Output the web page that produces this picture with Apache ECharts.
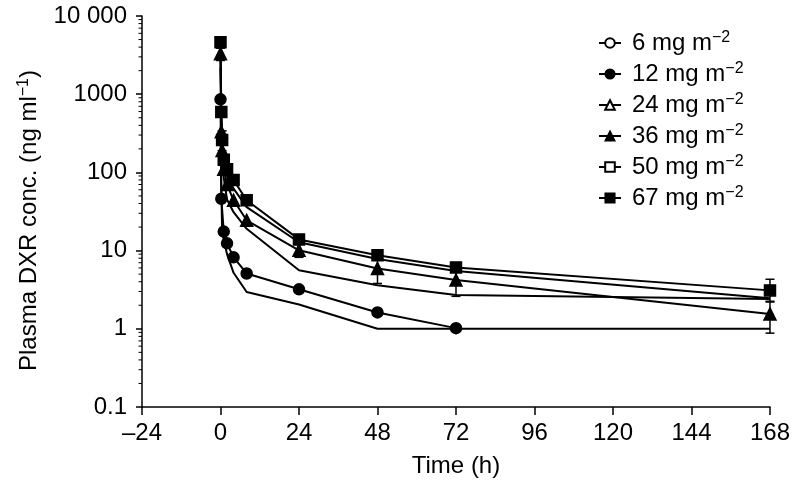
<!DOCTYPE html>
<html>
<head>
<meta charset="utf-8">
<script src="https://cdn.jsdelivr.net/npm/echarts@6/dist/echarts.min.js"></script>
<style>html,body{margin:0;padding:0;background:#fff}#c{width:793px;height:485px}</style>
</head>
<body>
<div id="c"></div>
<script>
// ---- data ----
const doseNames = ['6', '12', '24', '36', '50', '67'];
const xTicks = [-24, 0, 24, 48, 72, 96, 120, 144, 168];
const yTickLabels = {0.1: '0.1', 1: '1', 10: '10', 100: '100', 1000: '1000', 10000: '10 000'};
const yMinorTicks = [0.2,0.3,0.4,0.5,0.6,0.7,0.8,0.9, 2,3,4,5,6,7,8,9, 20,30,40,50,60,70,80,90,
  200,300,400,500,600,700,800,900, 2000,3000,4000,5000,6000,7000,8000,9000];

const s6  = [[0,300],[0.5,17],[2,9],[4,5.2],[8,2.95],[24,2.05],[48,1.0],[72,1.0],[168,1.0]];
const s12 = [[0,860],[0.25,46],[1,17.5],[2,12.4],[4,8.2],[8,5.1],[24,3.2],[48,1.62],[72,1.02]];
const s24 = [[0,2200],[0.25,260],[0.5,140],[1,85],[2,45],[4,31],[8,19],[24,5.6],[48,3.6],[72,2.7],[168,2.4]];
const s36 = [[0,3300],[0.25,330],[0.5,190],[1,110],[2,70],[4,44],[8,24.4],[24,10.1],[48,5.9],[72,4.2],[168,1.55]];
const s50 = [[0,4200],[0.25,560],[0.5,250],[1,130],[2,90],[4,62],[8,36],[24,12.8],[48,7.8],[72,5.5],[168,2.45]];
const s67 = [[0,4600],[0.25,590],[0.5,260],[1,145],[2,110],[4,80],[8,44],[24,13.9],[48,8.7],[72,6.1],[168,3.1]];

// error bars: [time, low, high]
const e36 = [[0,2700,3900],[24,8.2,12.0],[48,3.8,8.0],[72,2.6,5.8],[168,0.88,2.2]];
const e67 = [[0,3900,5400],[0.5,190,340],[168,2.25,4.3]];

// ---- chart ----
const FONT = 'Liberation Sans';
const FS = 24;
const chart = echarts.init(document.getElementById('c'), null, {renderer: 'canvas'});

function lineSeries(name, data, symbol, size, showSym) {
  return {
    type: 'line', name: name, data: data,
    symbol: symbol, symbolSize: size, showSymbol: showSym,
    lineStyle: {color: '#000', width: 2},
    itemStyle: {color: '#000', borderColor: '#000', borderWidth: 1.5},
    emphasis: {disabled: true}, animation: false, z: 3
  };
}
function errSeries(data) {
  return {
    type: 'custom', data: data, encode: {x: 0, y: [1, 2]}, animation: false, z: 4, silent: true,
    renderItem: function (params, api) {
      const t = api.value(0);
      const lo = api.coord([t, api.value(1)]);
      const hi = api.coord([t, api.value(2)]);
      const w = 4.5;
      const st = {stroke: '#000', lineWidth: 1.5};
      return {type: 'group', children: [
        {type: 'line', shape: {x1: lo[0], y1: lo[1], x2: hi[0], y2: hi[1]}, style: st},
        {type: 'line', shape: {x1: lo[0]-w, y1: lo[1], x2: lo[0]+w, y2: lo[1]}, style: st},
        {type: 'line', shape: {x1: hi[0]-w, y1: hi[1], x2: hi[0]+w, y2: hi[1]}, style: st}
      ]};
    }
  };
}

const option = {
  backgroundColor: '#fff',
  animation: false,
  textStyle: {fontFamily: FONT},
  grid: {left: 142, right: 21, top: 16, bottom: 78},
  legend: {
    orient: 'vertical', left: 593, top: 25,
    itemWidth: 22, itemHeight: 12, itemGap: 5,
    data: doseNames,
    formatter: function (n) { return n + ' mg m{sup|\u22122}'; },
    textStyle: {fontFamily: FONT, fontSize: FS, color: '#000', lineHeight: 26, padding: [0, 0, 0, 6],
      rich: {sup: {fontFamily: FONT, fontSize: 16, color: '#000', verticalAlign: 'top', lineHeight: 8}}},
    itemStyle: {borderColor: '#000', borderWidth: 1.5},
    lineStyle: {color: '#000', width: 2},
    selectedMode: false
  },
  xAxis: {
    type: 'value', min: -24, max: 168, interval: 24,
    name: 'Time (h)', nameLocation: 'middle', nameGap: 47,
    nameTextStyle: {fontFamily: FONT, fontSize: FS, color: '#000'},
    axisLine: {show: true, onZero: false, lineStyle: {color: '#000', width: 1.5}},
    axisTick: {show: true, length: 8, lineStyle: {color: '#000', width: 1.5}},
    axisLabel: {fontFamily: FONT, fontSize: FS, color: '#000', margin: 14,
      formatter: function (v) { return xTicks.indexOf(v) >= 0 ? String(v).replace('-', '\u2013') : ''; }},
    splitLine: {show: false}
  },
  yAxis: {
    type: 'log', logBase: 10, min: 0.1, max: 10000,
    name: 'Plasma DXR conc. (ng ml{sup|\u22121})', nameLocation: 'middle', nameGap: 100,
    nameTextStyle: {fontFamily: FONT, fontSize: FS, color: '#000', lineHeight: 26, padding: [0, 18, 0, 0],
      rich: {sup: {fontFamily: FONT, fontSize: 16, color: '#000', verticalAlign: 'top', lineHeight: 8}}},
    axisLine: {show: true, onZero: false, lineStyle: {color: '#000', width: 1.5}},
    axisTick: {show: true, length: 6, lineStyle: {color: '#000', width: 1.5}},
    axisLabel: {fontFamily: FONT, fontSize: FS, color: '#000', margin: 15,
      formatter: function (v) {
        for (const k in yTickLabels) { if (Math.abs(Number(k) - v) / v < 1e-6) return yTickLabels[k]; }
        return '';
      }},
    splitLine: {show: false}
  },
  series: [
    lineSeries('6', s6, 'emptyCircle', 9, false),
    lineSeries('12', s12, 'circle', 11, true),
    lineSeries('24', s24, 'emptyTriangle', 10, false),
    lineSeries('36', s36, 'triangle', 12, true),
    lineSeries('50', s50, 'emptyRect', 10, false),
    lineSeries('67', s67, 'rect', 11, true),
    errSeries(e36),
    errSeries(e67),
    {
      type: 'custom', data: yMinorTicks.map(function (v) { return [-24, v]; }),
      encode: {x: 0, y: 1}, clip: false, silent: true, animation: false, z: 5,
      renderItem: function (params, api) {
        const p = api.coord([api.value(0), api.value(1)]);
        return {type: 'line', shape: {x1: p[0] - 3.5, y1: p[1], x2: p[0], y2: p[1]},
          style: {stroke: '#000', lineWidth: 1}};
      }
    }
  ]
};
chart.setOption(option);
</script>
</body>
</html>
